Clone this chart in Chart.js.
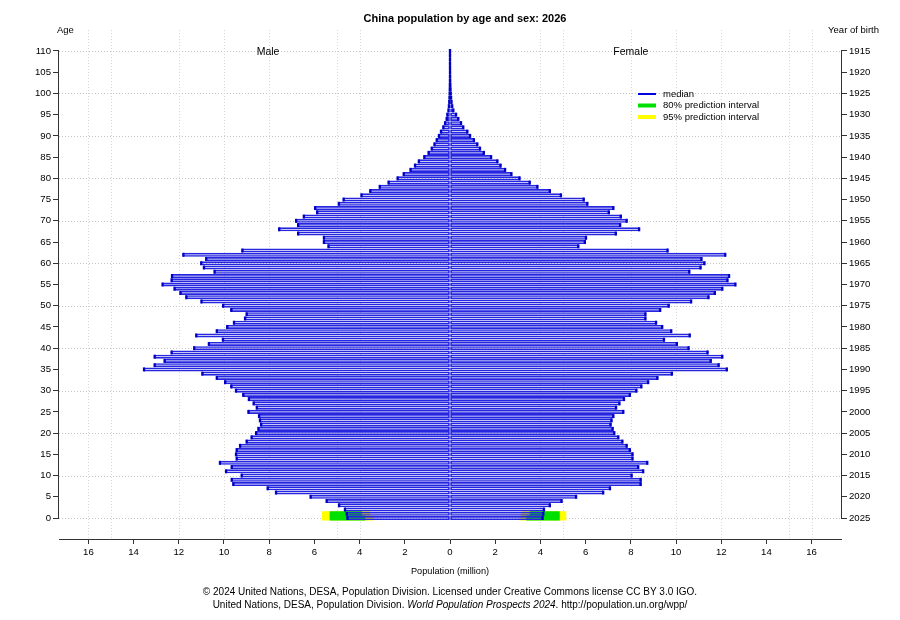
<!DOCTYPE html>
<html>
<head>
<meta charset="utf-8">
<title>China population by age and sex: 2026</title>
<script src="https://cdn.jsdelivr.net/npm/chart.js@4.4.1/dist/chart.umd.min.js"></script>
<style>
  html, body { margin: 0; padding: 0; background: #fff; }
  #wrap { width: 900px; height: 620px; }
</style>
</head>
<body>
<div id="wrap"><canvas id="pyramid" width="900" height="620"></canvas></div>
<script>
// single years of age, 0 .. 110
const ages = [
  0, 1, 2, 3, 4, 5, 6, 7, 8, 9, 10, 11, 12, 13, 14, 15, 16, 17, 18, 19,
  20, 21, 22, 23, 24, 25, 26, 27, 28, 29, 30, 31, 32, 33, 34, 35, 36, 37, 38, 39,
  40, 41, 42, 43, 44, 45, 46, 47, 48, 49, 50, 51, 52, 53, 54, 55, 56, 57, 58, 59,
  60, 61, 62, 63, 64, 65, 66, 67, 68, 69, 70, 71, 72, 73, 74, 75, 76, 77, 78, 79,
  80, 81, 82, 83, 84, 85, 86, 87, 88, 89, 90, 91, 92, 93, 94, 95, 96, 97, 98, 99,
  100, 101, 102, 103, 104, 105, 106, 107, 108, 109, 110
];

// median population, million
const male = [
  4.54, 4.57, 4.65, 4.91, 5.46, 6.17, 7.70, 8.07, 9.59, 9.66,
  9.22, 9.91, 9.66, 10.18, 9.44, 9.47, 9.44, 9.29, 9.00, 8.78,
  8.58, 8.48, 8.36, 8.41, 8.45, 8.92, 8.55, 8.69, 8.90, 9.15,
  9.47, 9.68, 9.95, 10.32, 10.96, 13.54, 13.07, 12.63, 13.07, 12.32,
  11.32, 10.67, 10.05, 11.23, 10.32, 9.86, 9.56, 9.07, 9.00, 9.68,
  10.04, 11.00, 11.67, 11.93, 12.19, 12.72, 12.32, 12.30, 10.42, 10.89,
  11.01, 10.79, 11.80, 9.19, 5.38, 5.58, 5.58, 6.72, 7.56, 6.72,
  6.81, 6.47, 5.88, 5.97, 4.92, 4.71, 3.92, 3.53, 3.11, 2.72,
  2.32, 2.05, 1.75, 1.55, 1.38, 1.14, 0.95, 0.81, 0.69, 0.59,
  0.49, 0.40, 0.30, 0.22, 0.15, 0.12, 0.07, 0.05, 0.035, 0.025,
  0.018, 0.012, 0.008, 0.005, 0.003, 0.002, 0.001, 0.001, 0.0005, 0.0003, 0.0002
];
const female = [
  4.10, 4.13, 4.16, 4.42, 4.94, 5.58, 6.78, 7.08, 8.44, 8.44,
  8.04, 8.55, 8.33, 8.73, 8.08, 8.08, 7.96, 7.82, 7.63, 7.45,
  7.27, 7.20, 7.11, 7.15, 7.23, 7.67, 7.35, 7.50, 7.70, 7.96,
  8.25, 8.47, 8.77, 9.18, 9.82, 12.25, 11.89, 11.54, 12.05, 11.40,
  10.56, 10.04, 9.47, 10.61, 9.79, 9.39, 9.12, 8.65, 8.65, 9.30,
  9.68, 10.67, 11.44, 11.72, 12.05, 12.63, 12.28, 12.35, 10.59, 11.09,
  11.26, 11.13, 12.18, 9.63, 5.68, 5.97, 6.02, 7.34, 8.37, 7.53,
  7.82, 7.56, 7.03, 7.23, 6.08, 5.92, 4.91, 4.42, 3.87, 3.53,
  3.08, 2.72, 2.44, 2.24, 2.10, 1.82, 1.50, 1.33, 1.21, 1.06,
  0.89, 0.77, 0.59, 0.49, 0.37, 0.27, 0.15, 0.10, 0.07, 0.05,
  0.035, 0.025, 0.017, 0.011, 0.007, 0.004, 0.0025, 0.0015, 0.001, 0.0005, 0.0003
];

// prediction intervals for the youngest ages (low, high)
const intervalAges = [0, 1];
const male80 = [[3.76, 5.31], [3.91, 5.31]];
const male95 = [[3.39, 5.65], [3.54, 5.65]];
const female80 = [[3.39, 4.84], [3.54, 4.84]];
const female95 = [[3.10, 5.13], [3.17, 5.13]];

// axes
const popTicks = [-16, -14, -12, -10, -8, -6, -4, -2, 0, 2, 4, 6, 8, 10, 12, 14, 16];
const ageTicks = [0, 5, 10, 15, 20, 25, 30, 35, 40, 45, 50, 55, 60, 65, 70, 75, 80, 85, 90, 95, 100, 105, 110];
const birthYears = [2025, 2020, 2015, 2010, 2005, 2000, 1995, 1990, 1985, 1980, 1975, 1970,
  1965, 1960, 1955, 1950, 1945, 1940, 1935, 1930, 1925, 1920, 1915];
const gridAges = [0, 10, 20, 30, 40, 50, 60, 70, 80, 90, 100, 110];
const gridPop = [-16, -15, -12, -10, -8, -5, -4, 4, 5, 8, 10, 12, 15, 16];

const FONT = '"Liberation Sans", Arial, Helvetica, sans-serif';
const BAR_BLUE = '#2626e0';
const CAP_BLUE = '#0000c4';
const AXIS = '#333';

const side = (vals, sign) => vals.map((v, i) => ({ y: ages[i], x: sign * v }));
const band = (pairs, sign) => pairs.map((p, i) => ({ y: intervalAges[i], x: [sign * p[0], sign * p[1]] }));

const barCommon = { type: 'bar', indexAxis: 'y', xAxisID: 'x', yAxisID: 'y', grouped: false };

const datasets = [
  Object.assign({ label: '95% male', data: band(male95, -1), backgroundColor: '#ffff00',
    borderWidth: 0, barThickness: 4.4, order: 6 }, barCommon),
  Object.assign({ label: '95% female', data: band(female95, 1), backgroundColor: '#ffff00',
    borderWidth: 0, barThickness: 4.4, order: 6 }, barCommon),
  Object.assign({ label: '80% male', data: band(male80, -1), backgroundColor: '#00e000',
    borderWidth: 0, barThickness: 4.4, order: 5 }, barCommon),
  Object.assign({ label: '80% female', data: band(female80, 1), backgroundColor: '#00e000',
    borderWidth: 0, barThickness: 4.4, order: 5 }, barCommon),
  Object.assign({ label: 'Male', data: side(male, -1), backgroundColor: 'rgba(0,0,0,0)',
    borderColor: BAR_BLUE, borderWidth: 1, borderSkipped: false, barThickness: 3.4, order: 3 }, barCommon),
  Object.assign({ label: 'Female', data: side(female, 1), backgroundColor: 'rgba(0,0,0,0)',
    borderColor: BAR_BLUE, borderWidth: 1, borderSkipped: false, barThickness: 3.4, order: 3 }, barCommon),
  { type: 'scatter', label: 'male median', data: side(male, -1), xAxisID: 'x', yAxisID: 'y',
    pointStyle: 'line', rotation: 90, radius: 2, borderWidth: 2.2, borderColor: CAP_BLUE, order: 1 },
  { type: 'scatter', label: 'female median', data: side(female, 1), xAxisID: 'x', yAxisID: 'y',
    pointStyle: 'line', rotation: 90, radius: 2, borderWidth: 2.2, borderColor: CAP_BLUE, order: 1 }
];

function line(ctx, x1, y1, x2, y2) {
  ctx.beginPath();
  ctx.moveTo(x1, y1);
  ctx.lineTo(x2, y2);
  ctx.stroke();
}

function text(ctx, str, x, y, size, align, weight, style) {
  ctx.font = (style || 'normal') + ' ' + (weight || 'normal') + ' ' + size + 'px ' + FONT;
  ctx.textAlign = align || 'left';
  ctx.textBaseline = 'middle';
  ctx.fillText(str, x, y);
}

const decor = {
  id: 'decor',
  beforeDatasetsDraw(chart) {
    const { ctx, chartArea: a, scales: { x, y } } = chart;
    ctx.save();
    ctx.strokeStyle = '#c4c4c4';
    ctx.lineWidth = 1;
    ctx.setLineDash([1, 2]);
    gridAges.forEach(v => {
      const py = Math.round(y.getPixelForValue(v)) + 0.5;
      line(ctx, a.left, py, a.right, py);
    });
    ctx.strokeStyle = '#d8d8d8';
    gridPop.forEach(v => {
      const px = Math.round(x.getPixelForValue(v)) + 0.5;
      line(ctx, px, a.top, px, a.bottom);
    });
    ctx.restore();
  },
  afterDraw(chart) {
    const { ctx, chartArea: a, scales: { x, y } } = chart;
    ctx.save();
    // age axes, drawn only over 0..110
    ctx.strokeStyle = AXIS;
    ctx.lineWidth = 1;
    const y0 = y.getPixelForValue(0), y110 = y.getPixelForValue(110);
    line(ctx, a.left - 0.5, y0, a.left - 0.5, y110);
    line(ctx, a.right + 0.5, y0, a.right + 0.5, y110);

    ctx.fillStyle = '#000';
    text(ctx, 'China population by age and sex: 2026', 465, 19, 11, 'center', 'bold');
    text(ctx, 'Age', 57, 30, 9.5, 'left');
    text(ctx, 'Year of birth', 879, 30, 9.5, 'right');
    text(ctx, 'Male', x.getPixelForValue(-8.05), 52, 10.5, 'center');
    text(ctx, 'Female', x.getPixelForValue(8.0), 52, 10.5, 'center');
    text(ctx, 'Population (million)', 450, 571, 9.2, 'center');

    // legend
    const lx = 638, tx = 663;
    ctx.lineWidth = 2;
    ctx.strokeStyle = '#0000e0';
    line(ctx, lx, 94, lx + 18, 94);
    ctx.lineWidth = 4;
    ctx.strokeStyle = '#00e000';
    line(ctx, lx, 105.5, lx + 18, 105.5);
    ctx.strokeStyle = '#ffff00';
    line(ctx, lx, 117, lx + 18, 117);
    text(ctx, 'median', tx, 94, 9.5);
    text(ctx, '80% prediction interval', tx, 105.5, 9.5);
    text(ctx, '95% prediction interval', tx, 117, 9.5);

    // credits
    text(ctx, '\u00a9 2024 United Nations, DESA, Population Division. Licensed under Creative Commons license CC BY 3.0 IGO.',
      450, 592, 10, 'center');
    const parts = [
      ['United Nations, DESA, Population Division. ', 'normal'],
      ['World Population Prospects 2024', 'italic'],
      ['. http://population.un.org/wpp/', 'normal']
    ];
    let total = 0;
    parts.forEach(p => {
      ctx.font = p[1] + ' normal 10px ' + FONT;
      p.push(ctx.measureText(p[0]).width);
      total += p[2];
    });
    let cx = 450 - total / 2;
    parts.forEach(p => {
      text(ctx, p[0], cx, 605, 10, 'left', 'normal', p[1]);
      cx += p[2];
    });
    ctx.restore();
  }
};

const tickFont = { family: FONT, size: 9.6 };
const ageScale = (pos, label) => ({
  type: 'linear',
  position: pos,
  offset: false,
  beginAtZero: false,
  min: -4.94,
  max: 114.94,
  afterBuildTicks: s => { s.ticks = ageTicks.map(v => ({ value: v })); },
  afterFit: s => { s.width = 59; },
  ticks: { font: tickFont, color: '#000', padding: 2, autoSkip: false, callback: label },
  grid: { offset: false, drawOnChartArea: false, drawTicks: true, tickLength: 6, color: AXIS, tickColor: AXIS },
  border: { display: false }
});

new Chart(document.getElementById('pyramid'), {
  type: 'bar',
  data: { datasets },
  options: {
    indexAxis: 'y',
    responsive: false,
    animation: false,
    devicePixelRatio: 1,
    events: [],
    layout: { padding: { top: 30, left: 0, right: 0, bottom: 0 } },
    plugins: { legend: { display: false }, tooltip: { enabled: false }, title: { display: false } },
    scales: {
      x: {
        type: 'linear',
        offset: false,
        beginAtZero: false,
        min: -17.3,
        max: 17.3,
        afterBuildTicks: s => { s.ticks = popTicks.map(v => ({ value: v })); },
        afterFit: s => { s.height = 81; },
        ticks: { font: tickFont, color: '#000', padding: 3, maxRotation: 0, autoSkip: false,
          callback: v => String(Math.abs(v)) },
        grid: { offset: false, drawOnChartArea: false, drawTicks: true, tickLength: 5, color: AXIS, tickColor: AXIS },
        border: { display: true, color: AXIS, width: 1 }
      },
      y: ageScale('left', v => String(v)),
      y2: ageScale('right', (v, i) => String(birthYears[i]))
    }
  },
  plugins: [decor]
});
</script>
</body>
</html>
